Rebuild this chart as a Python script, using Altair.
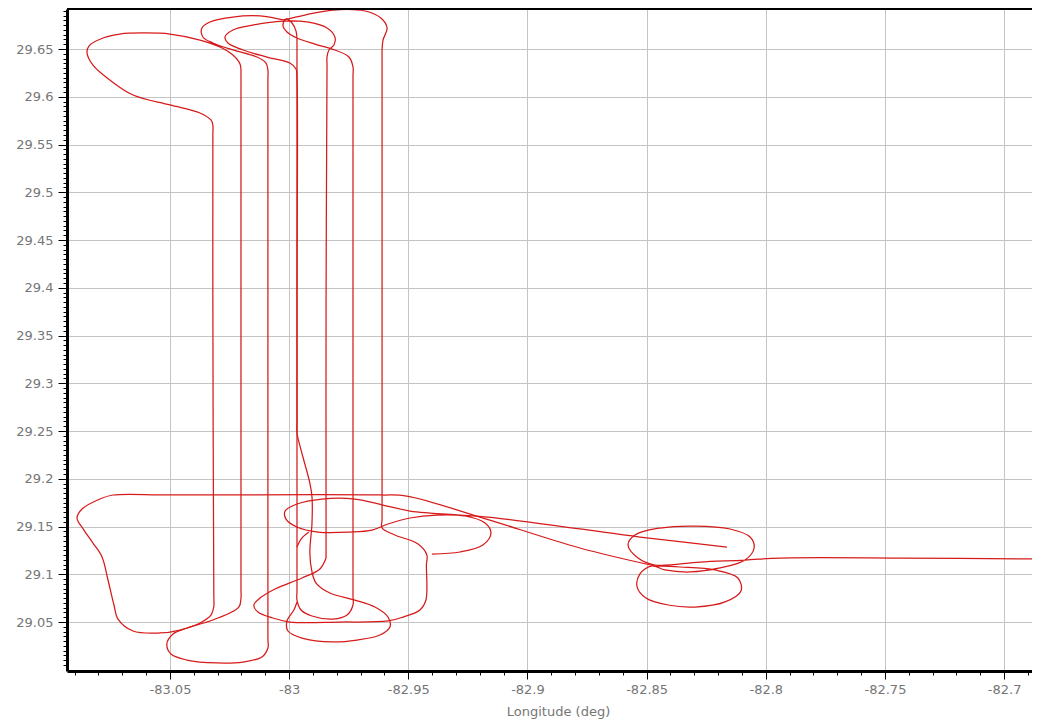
import altair as alt
import pandas as pd

# Flight track (lon, lat) in several pieces
inbound_east = [(-82.6849, 29.1160), (-82.7437, 29.1170), (-82.7940, 29.1170), (-82.8087, 29.1149),
                (-82.8276, 29.1128), (-82.8465, 29.1097), (-82.8536, 29.1170), (-82.8578, 29.1306),
                (-82.8549, 29.1411), (-82.8444, 29.1484), (-82.8297, 29.1505), (-82.8150, 29.1474),
                (-82.8066, 29.1390), (-82.8049, 29.1275), (-82.8087, 29.1149), (-82.8192, 29.1066),
                (-82.8318, 29.1024), (-82.8423, 29.1045), (-82.8478, 29.1087), (-82.8528, 29.1003),
                (-82.8540, 29.0867), (-82.8503, 29.0751), (-82.8410, 29.0678), (-82.8297, 29.0657),
                (-82.8171, 29.0710), (-82.8104, 29.0825), (-82.8117, 29.0961), (-82.8213, 29.1045),
                (-82.8360, 29.1076), (-82.8465, 29.1087)]

diag_southwest = [(-82.8465, 29.1087), (-82.8780, 29.1275), (-82.9199, 29.1599), (-82.9506, 29.1819),
                  (-82.9619, 29.1830), (-83.0500, 29.1830), (-83.0739, 29.1830), (-83.0794, 29.1788),
                  (-83.0869, 29.1683), (-83.0890, 29.1589), (-83.0861, 29.1463), (-83.0823, 29.1327),
                  (-83.0785, 29.1181), (-83.0760, 29.0940), (-83.0735, 29.0678), (-83.0718, 29.0531),
                  (-83.0655, 29.0406), (-83.0542, 29.0385), (-83.0458, 29.0416), (-83.0374, 29.0490),
                  (-83.0328, 29.0573), (-83.0315, 29.0678)]

legs_west = [(-83.0315, 29.0678), (-83.0316, 29.0800), (-83.0320, 29.3872), (-83.0320, 29.5600),
             (-83.0320, 29.5704), (-83.0328, 29.5757),
             (-83.0374, 29.5830), (-83.0500, 29.5914), (-83.0655, 29.6018), (-83.0752, 29.6175),
             (-83.0823, 29.6332), (-83.0848, 29.6458), (-83.0840, 29.6531), (-83.0781, 29.6615),
             (-83.0710, 29.6657), (-83.0613, 29.6668), (-83.0500, 29.6657), (-83.0374, 29.6594),
             (-83.0290, 29.6521), (-83.0236, 29.6437), (-83.0206, 29.6343), (-83.0202, 29.6196),
             (-83.0202, 29.6100), (-83.0202, 29.3872), (-83.0202, 29.0850),
             (-83.0202, 29.0751), (-83.0211, 29.0657), (-83.0320, 29.0521),
             (-83.0429, 29.0437), (-83.0487, 29.0374), (-83.0513, 29.0270), (-83.0496, 29.0165),
             (-83.0429, 29.0102), (-83.0303, 29.0071), (-83.0194, 29.0081), (-83.0114, 29.0134),
             (-83.0089, 29.0228), (-83.0089, 29.0330), (-83.0089, 29.3872), (-83.0089, 29.6180),
             (-83.0089, 29.6280), (-83.0097, 29.6353),
             (-83.0135, 29.6416), (-83.0236, 29.6490), (-83.0320, 29.6563), (-83.0362, 29.6626),
             (-83.0366, 29.6720), (-83.0332, 29.6783), (-83.0236, 29.6835), (-83.0122, 29.6846),
             (-83.0026, 29.6804)]

arc_east_leg = [(-83.0026, 29.6804), (-82.9934, 29.6856), (-82.9816, 29.6908), (-82.9682, 29.6898),
                (-82.9615, 29.6825), (-82.9589, 29.6720), (-82.9606, 29.6594), (-82.9610, 29.6490),
                (-82.9610, 29.6390), (-82.9610, 29.3872), (-82.9610, 29.1580),
                (-82.9610, 29.1484), (-82.9556, 29.1411), (-82.9459, 29.1317),
                (-82.9422, 29.1202), (-82.9424, 29.1100), (-82.9426, 29.0730), (-82.9451, 29.0626),
                (-82.9522, 29.0552),
                (-82.9585, 29.0511), (-82.9787, 29.0500), (-82.9997, 29.0500), (-83.0068, 29.0542),
                (-83.0131, 29.0605), (-83.0148, 29.0678), (-83.0122, 29.0751), (-83.0059, 29.0846),
                (-82.9946, 29.0961), (-82.9871, 29.1055), (-82.9845, 29.1170)]

legs_middle = [(-82.9845, 29.1170), (-82.9845, 29.1270), (-82.9845, 29.3872), (-82.9841, 29.6320),
               (-82.9841, 29.6416), (-82.9833, 29.6490),
               (-82.9812, 29.6542), (-82.9808, 29.6626), (-82.9841, 29.6720), (-82.9925, 29.6783),
               (-83.0026, 29.6793), (-83.0152, 29.6751), (-83.0236, 29.6699), (-83.0269, 29.6626),
               (-83.0257, 29.6563), (-83.0194, 29.6490), (-83.0093, 29.6416), (-82.9997, 29.6353),
               (-82.9971, 29.6291), (-82.9967, 29.6190), (-82.9967, 29.3872), (-82.9967, 29.0830),
               (-82.9967, 29.0730), (-82.9950, 29.0626),
               (-82.9904, 29.0563), (-82.9816, 29.0531), (-82.9757, 29.0573), (-82.9732, 29.0678),
               (-82.9732, 29.0780), (-82.9732, 29.3872), (-82.9732, 29.6210),
               (-82.9732, 29.6312), (-82.9749, 29.6416), (-82.9808, 29.6490),
               (-82.9892, 29.6552), (-82.9967, 29.6615), (-83.0009, 29.6678), (-83.0026, 29.6751),
               (-83.0013, 29.6814), (-82.9988, 29.6772), (-82.9971, 29.6688), (-82.9967, 29.6573)]

slant_leg = [(-82.9967, 29.6573), (-82.9967, 29.2580), (-82.9967, 29.2479), (-82.9942, 29.2228),
             (-82.9913, 29.1955),
             (-82.9904, 29.1809), (-82.9904, 29.1537), (-82.9913, 29.1223), (-82.9904, 29.1024),
             (-82.9887, 29.0908), (-82.9829, 29.0804), (-82.9724, 29.0730), (-82.9640, 29.0657),
             (-82.9585, 29.0552), (-82.9577, 29.0448), (-82.9619, 29.0364), (-82.9715, 29.0311),
             (-82.9816, 29.0291), (-82.9946, 29.0332), (-83.0005, 29.0406), (-83.0009, 29.0511),
             (-82.9980, 29.0626), (-82.9967, 29.0710)]

outbound_loops = [(-82.8163, 29.1285), (-82.8528, 29.1390), (-82.8780, 29.1474), (-82.9128, 29.1589),
                  (-82.9283, 29.1620), (-82.9409, 29.1641), (-82.9493, 29.1662), (-82.9606, 29.1725),
                  (-82.9724, 29.1788), (-82.9862, 29.1788), (-82.9967, 29.1736), (-83.0017, 29.1662),
                  (-83.0013, 29.1578), (-82.9967, 29.1495), (-82.9879, 29.1442), (-82.9745, 29.1442),
                  (-82.9652, 29.1463), (-82.9585, 29.1526), (-82.9493, 29.1589), (-82.9380, 29.1620),
                  (-82.9262, 29.1610), (-82.9178, 29.1537), (-82.9153, 29.1432), (-82.9187, 29.1306),
                  (-82.9283, 29.1233), (-82.9401, 29.1212)]

hook = [(-82.9967, 29.1285), (-82.9950, 29.1369), (-82.9917, 29.1442)]

pieces = {
    "inbound_east": inbound_east, "diag_southwest": diag_southwest, "legs_west": legs_west,
    "arc_east_leg": arc_east_leg, "legs_middle": legs_middle, "slant_leg": slant_leg,
    "outbound_loops": outbound_loops, "hook": hook,
}

# Axis ticks (major every 0.05, minor in between)
x_ticks = [round(-83.09 + 0.01 * i, 2) for i in range(41)]
y_ticks = [round(29.005 + 0.005 * i, 3) for i in range(138)]

rows = []
for name, pts in pieces.items():
    for i, (lon, lat) in enumerate(pts):
        rows.append({"piece": name, "idx": i, "lon": lon, "lat": lat})
df = pd.DataFrame(rows)

major = "abs(datum.value*20 - round(datum.value*20)) < 0.001"
label_expr = major + " ? toString(round(datum.value*100)/100) : ''"

x_axis = alt.Axis(
    values=x_ticks, labelExpr=label_expr, title="Longitude (deg)",
    tickSize={"condition": {"test": major, "value": 8}, "value": 4},
    gridOpacity={"condition": {"test": major, "value": 1}, "value": 0},
    gridColor="#c4c4c4", gridWidth=1,
    domainColor="black", domainWidth=3, tickColor="black", tickWidth=1,
    labelFont="DejaVu Sans", labelFontSize=13, labelColor="#767676", labelPadding=4,
    labelOverlap=False, labelFlush=False, labelBound=False,
    titleFont="DejaVu Sans", titleFontSize=13, titleFontWeight="normal", titleColor="#767676",
    titlePadding=9, titleX=491,
)
y_axis = alt.Axis(
    values=y_ticks, labelExpr=label_expr, title="",
    tickSize={"condition": {"test": major, "value": 9}, "value": 4},
    gridOpacity={"condition": {"test": major, "value": 1}, "value": 0},
    gridColor="#c4c4c4", gridWidth=1,
    domainColor="black", domainWidth=3, tickColor="black", tickWidth=1,
    labelFont="DejaVu Sans", labelFontSize=13, labelColor="#767676", labelPadding=5,
    labelOverlap=False, labelFlush=False, labelBound=False,
)

track = alt.Chart(df).mark_line(
    color="#d61a1a", strokeWidth=1.25, clip=True, interpolate="catmull-rom"
).encode(
    x=alt.X("lon:Q", scale=alt.Scale(domain=[-83.0932, -82.6883], nice=False, zero=False), axis=x_axis),
    y=alt.Y("lat:Q", scale=alt.Scale(domain=[28.9987, 29.6919], nice=False, zero=False), axis=y_axis),
    detail="piece:N",
    order="idx:Q",
)

top_border = alt.Chart(df).mark_rule(color="black", strokeWidth=2).encode(
    x=alt.value(0), x2=alt.value(965), y=alt.value(0)
)

chart = alt.layer(track, top_border).properties(
    width=965, height=662,
    autosize=alt.AutoSizeParams(type="none"),
    padding={"left": 59, "top": 1, "right": 0, "bottom": 50},
    background="white",
).configure_view(stroke="transparent")

chart.save("out.html", embed_options={"renderer": "svg", "actions": False})
